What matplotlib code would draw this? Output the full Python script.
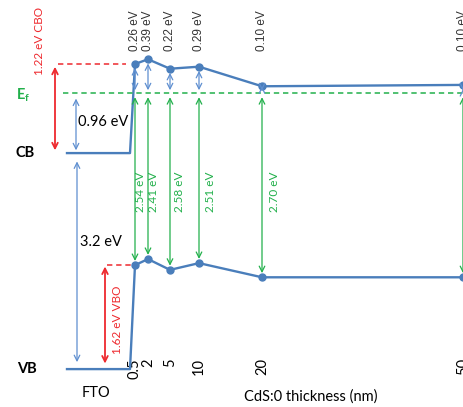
import numpy as np
import matplotlib
matplotlib.use('Agg')
import matplotlib.pyplot as plt

plt.rcParams['font.family'] = ['Lato', 'DejaVu Sans']

# CdS:O thickness (nm) and band edges (eV, relative to Ef)
thick = [0.5, 2, 5, 10, 20, 50]
cb_cds = [0.43, 0.50, 0.36, 0.39, 0.10, 0.12]
vb_cds = [-2.55, -2.46, -2.62, -2.52, -2.73, -2.73]
cb_fto = -0.89
vb_fto = -4.09
fto_x = [-3, 0]

cb_off_labels = ['0.26 eV', '0.39 eV', '0.22 eV', '0.29 eV', '0.10 eV', '0.10 eV']
gap_labels = ['2.54 eV', '2.41 eV', '2.58 eV', '2.51 eV', '2.70 eV']
tick_labels = ['0.5', '2', '5', '10', '20', '50']

blue = '#4a7ebb'
lblue = '#5f8fd0'
green = '#22b04b'
red = '#ee2a2f'

# piecewise x scale (thickness axis is drawn non-uniformly)
T = [-8, -3, 0, 0.5, 2, 5, 10, 20, 50, 51]
U = [0, 67, 130, 135, 148, 170, 199, 262, 463, 470]
fwd = lambda t: np.interp(t, T, U)
inv = lambda u: np.interp(u, U, T)

fig = plt.figure(figsize=(4.64, 4.07), dpi=100)
ax = fig.add_axes([0, 51 / 407, 1, 356 / 407])
ax.set_xscale('function', functions=(fwd, inv))
ax.set_xlim(-8, float(inv(464)))
ax.set_ylim(-3.896, 1.378)
for s in ax.spines.values():
    s.set_visible(False)
ax.set_yticks([])
ax.set_xticks(thick)
ax.set_xticklabels(tick_labels, rotation=90, fontsize=10.5)
ax.tick_params(axis='x', length=0, pad=1.5)

# band lines
ax.plot(fto_x + thick, [cb_fto, cb_fto] + cb_cds, color=blue, lw=1.7, clip_on=False)
ax.plot(fto_x + thick, [vb_fto, vb_fto] + vb_cds, color=blue, lw=1.7, clip_on=False)
ax.plot(thick, cb_cds, 'o', color=blue, ms=5, clip_on=False)
ax.plot(thick, vb_cds, 'o', color=blue, ms=5, clip_on=False)

# Fermi level
ax.axhline(0, xmin=63 / 464, xmax=1, color=green, lw=1.1, ls=(0, (3.5, 2.5)))


def arrow(x, y0, y1, c, sa=2, sb=2, lw=0.9):
    ax.annotate('', xy=(x, y1), xytext=(x, y0), annotation_clip=False,
                arrowprops=dict(arrowstyle='<->,head_length=0.4,head_width=0.2',
                                color=c, lw=lw, shrinkA=sa, shrinkB=sb))


for i, t in enumerate(thick):
    arrow(t, 0, cb_cds[i], lblue, sa=2, sb=3)
    arrow(t, 0, vb_cds[i], green, sa=3, sb=3)
    ax.text(t, 0.92, cb_off_labels[i], rotation=90, ha='center', va='center',
            fontsize=8.5, color='#333333', family=['Liberation Sans'])

gap_dx = [6, 6, 10, 12, 13]
for i, lab in enumerate(gap_labels):
    ax.annotate(lab, xy=(thick[i], -1.47), xytext=(gap_dx[i] / 1.389, 0),
                textcoords='offset points', rotation=90, ha='center', va='center',
                fontsize=8.5, color=green)

# FTO gaps
arrow(inv(76), 0, cb_fto, lblue, sa=4, sb=2)
arrow(inv(77), cb_fto, vb_fto, lblue, sa=6, sb=5)
ax.text(inv(78), -0.43, '0.96 eV', fontsize=10.5, va='center', ha='left')
ax.text(inv(80), -2.21, '3.2 eV', fontsize=10.5, va='center', ha='left')

# band offsets
ax.plot([inv(58), inv(126)], [cb_cds[0], cb_cds[0]], color=red, lw=1.1, ls=(0, (3.5, 2.5)))
ax.plot([inv(107), inv(131)], [vb_cds[0], vb_cds[0]], color=red, lw=1.1,
        ls=(0, (3.5, 2.5)), clip_on=False)
arrow(inv(55), cb_fto, cb_cds[0], red, sa=2, sb=2, lw=1.3)
arrow(inv(105), vb_fto, vb_cds[0], red, sa=4, sb=1, lw=1.3)
ax.text(inv(40), 0.77, '1.22 eV CBO', rotation=90, ha='center', va='center',
        fontsize=8.5, color=red)
ax.text(inv(118), -3.36, '1.62 eV VBO', rotation=90, ha='center', va='center',
        fontsize=8.5, color=red)

# labels
ax.text(inv(16), -0.03, r'E$_\mathregular{f}$', color=green, fontsize=10.5,
        fontweight='bold', va='center', ha='left')
ax.text(inv(15), cb_fto, 'CB', fontsize=10.5, fontweight='bold', va='center', ha='left')
ax.text(inv(17), vb_fto, 'VB', fontsize=10.5, fontweight='bold', va='center', ha='left')
ax.text(inv(96), -4.44, 'FTO', fontsize=10.5, va='center', ha='center')
ax.text(inv(311), -4.50, 'CdS:0 thickness (nm)', fontsize=10.5, va='center', ha='center')

fig.savefig('out.png', dpi=100)
